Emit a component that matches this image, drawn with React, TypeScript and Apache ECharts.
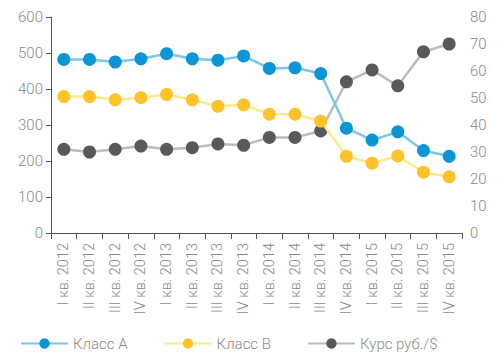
import React, { useEffect, useRef } from "react";
import * as echarts from "echarts";

const categories = [
  "I кв. 2012", "II кв. 2012", "III кв. 2012", "IV кв. 2012",
  "I кв. 2013", "II кв. 2013", "III кв. 2013", "IV кв. 2013",
  "I кв. 2014", "II кв. 2014", "III кв. 2014", "IV кв. 2014",
  "I кв. 2015", "II кв. 2015", "III кв. 2015", "IV кв. 2015",
];
const classA = [482, 482, 475, 484, 498, 484, 480, 492, 457, 459, 443, 291, 258, 281, 229, 213];
const classB = [379, 379, 370, 376, 385, 370, 352, 356, 330, 330, 311, 213, 194, 214, 169, 156];
const rate = [31.0, 30.0, 31.0, 32.2, 31.0, 31.6, 33.0, 32.5, 35.4, 35.4, 37.8, 56.0, 60.4, 54.5, 67.1, 70.0];

const FONT = "Roboto";
const LABEL = "#8a8a8a";
const AXIS = "#555";

export default function App() {
  const ref = useRef<HTMLDivElement>(null);
  useEffect(() => {
    document.body.style.margin = "0";
    const chart = echarts.init(ref.current!, null, { renderer: "svg" });
    const mk = (name: string, data: number[], line: string, dot: string, yi: number) => ({
      name,
      type: "line",
      yAxisIndex: yi,
      data,
      symbol: "circle",
      symbolSize: 13,
      lineStyle: { color: line, width: 2.5 },
      itemStyle: { color: dot },
      z: yi === 1 ? 1 : 2,
    });
    chart.setOption({
      animation: false,
      textStyle: { fontFamily: FONT },
      grid: { left: 51, right: 38, top: 17, bottom: 124 },
      legend: {
        left: 15,
        top: 331,
        itemWidth: 47,
        itemHeight: 13,
        itemGap: 36,
        textStyle: { color: LABEL, fontSize: 15, fontWeight: 300, fontFamily: FONT },
        data: ["Класс А", "Класс В", "Курс руб./$"],
      },
      xAxis: {
        type: "category",
        data: categories,
        boundaryGap: true,
        axisLine: { lineStyle: { color: AXIS, width: 1 } },
        axisTick: { show: true, length: 6, inside: false, lineStyle: { color: AXIS } },
        axisLabel: { rotate: 90, color: LABEL, fontSize: 14.5, fontWeight: 300, margin: 10, interval: 0 },
        splitLine: { show: false },
      },
      yAxis: [
        {
          type: "value",
          min: 0,
          max: 600,
          interval: 100,
          axisLine: { show: true, lineStyle: { color: AXIS } },
          axisTick: { show: true, length: 5, lineStyle: { color: AXIS } },
          axisLabel: { color: LABEL, fontSize: 15, fontWeight: 300, margin: 8 },
          splitLine: { show: false },
        },
        {
          type: "value",
          min: 0,
          max: 80,
          interval: 10,
          position: "right",
          axisLine: { show: false },
          axisTick: { show: false },
          axisLabel: { color: LABEL, fontSize: 15, fontWeight: 300, margin: 8 },
          splitLine: { show: false },
        },
      ],
      series: [
        mk("Класс А", classA, "#7ac6ec", "#0a96d4", 0),
        mk("Класс В", classB, "#fde98c", "#fec22a", 0),
        mk("Курс руб./$", rate, "#bdbdbd", "#58595b", 1),
      ],
    });
    return () => chart.dispose();
  }, []);
  return <div ref={ref} style={{ width: 500, height: 357 }} />;
}
